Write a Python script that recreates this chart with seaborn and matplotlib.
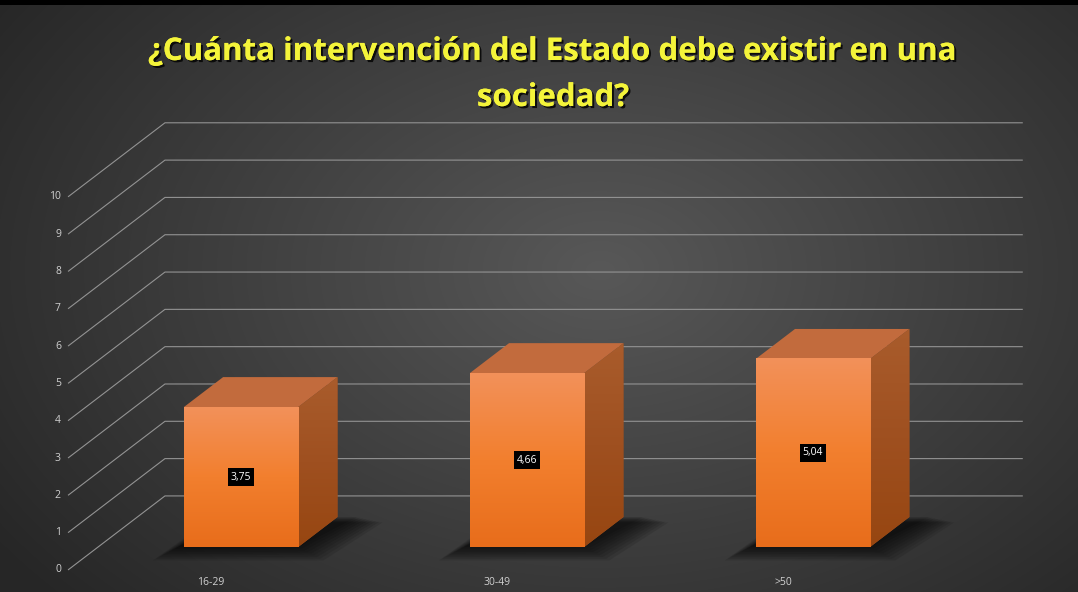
import numpy as np
import pandas as pd
import matplotlib
matplotlib.use("Agg")
import matplotlib.pyplot as plt
import matplotlib.patheffects as pe
import seaborn as sns
from matplotlib.patches import Polygon, Rectangle
from matplotlib.colors import LinearSegmentedColormap

# === DATA ===
categories = ["16-29", "30-49", ">50"]
values = [3.75, 4.66, 5.04]
value_labels = ["3,75", "4,66", "5,04"]
y_ticks = list(range(0, 11))
title_lines = ["¿Cuánta intervención del Estado debe existir en una", "sociedad?"]

# === PSEUDO 3D GEOMETRY (bar plane is z=0) ===
KX, KY = 0.339, 1.984          # screen shift per unit of depth (x in categories, y in values)
Z_FRONT, Z_BAR_BACK, Z_WALL = -0.31, 0.405, 0.69
BAR_W = 0.4


def proj(x, y, z):
    return x + z * KX, y + z * KY


sns.set_theme(style="white")
plt.rcParams["font.family"] = ["Open Sans", "DejaVu Sans"]

fig = plt.figure(figsize=(10.78, 5.92), dpi=100)

# === BACKGROUND (radial grey gradient) ===
bg = fig.add_axes([0, 0, 1, 1])
bg.axis("off")
yy, xx = np.mgrid[0:592, 0:1078]
r = np.sqrt(((xx - 600) / 640.0) ** 2 + ((yy - 270) / 430.0) ** 2)
shade = np.clip(0.345 - 0.17 * r, 0.15, 0.35)
bg.imshow(np.dstack([shade, shade, shade]), extent=[0, 1, 0, 1], aspect="auto", zorder=0)
bg.set_xlim(0, 1)
bg.set_ylim(0, 1)
fig.patches.append(Rectangle((0, 1 - 5 / 592), 1, 5 / 592, transform=fig.transFigure,
                             facecolor="black", edgecolor="none", zorder=5))

# === MAIN AXES ===
ax = fig.add_axes([0, 0, 1, 1])
ax.patch.set_alpha(0)

df = pd.DataFrame({"grupo": categories, "valor": values})
sns.barplot(data=df, x="grupo", y="valor", width=BAR_W, color="#f07f2d",
            saturation=1, ax=ax, zorder=4, edgecolor="none")

# walls: side-wall diagonals + back-wall gridlines
grid_col = "#939393"
for t in y_ticks:
    fx, fy = proj(-0.5, t, Z_FRONT)
    bx, by = proj(-0.5, t, Z_WALL)
    ex, ey = proj(len(categories) - 0.5, t, Z_WALL)
    ax.plot([fx, bx, ex], [fy, by, ey], color=grid_col, lw=0.8, zorder=1,
            solid_capstyle="butt")
    ax.text(fx - 0.025, fy, str(t), ha="right", va="center", fontsize=7.5,
            color="#d0d0d0", zorder=6)

front_cmap = LinearSegmentedColormap.from_list("front", ["#f3915a", "#f27f2e", "#e86d1b"])
side_cmap = LinearSegmentedColormap.from_list("side", ["#a95c2c", "#9f5020", "#974611"])
grad = np.linspace(0, 1, 256).reshape(-1, 1)

for i, patch in enumerate(ax.patches[:len(values)]):
    x0 = patch.get_x()
    w = patch.get_width()
    h = patch.get_height()
    cx = x0 + w / 2

    # soft floor shadow: stacked, growing copies of the bar footprint
    for k in range(9):
        ex_ = 0.011 * k
        ey_ = 0.045 * k
        foot = [proj(x0 - ex_ - 0.02, -ey_, 0), proj(x0 + w + ex_, -ey_, 0),
                proj(x0 + w + ex_ + 0.07, -ey_ * 0.4, Z_BAR_BACK),
                proj(x0 - ex_ + 0.03, -ey_ * 0.4, Z_BAR_BACK)]
        ax.add_patch(Polygon(foot, closed=True, facecolor="black", edgecolor="none",
                             alpha=0.1, zorder=2))

    # front face gradient
    ax.imshow(grad, extent=[x0, x0 + w, 0, h], cmap=front_cmap, aspect="auto",
              origin="upper", zorder=4.5, clip_path=patch, clip_on=True)

    # side face
    side_pts = [proj(x0 + w, 0, 0), proj(x0 + w, h, 0),
                proj(x0 + w, h, Z_BAR_BACK), proj(x0 + w, 0, Z_BAR_BACK)]
    side = Polygon(side_pts, closed=True, facecolor="#9f5020", edgecolor="none", zorder=4)
    ax.add_patch(side)
    xs = [p[0] for p in side_pts]
    ys = [p[1] for p in side_pts]
    ax.imshow(grad, extent=[min(xs), max(xs), min(ys), max(ys)], cmap=side_cmap,
              aspect="auto", origin="upper", zorder=4.2, clip_path=side, clip_on=True)

    # top face
    top_pts = [proj(x0, h, 0), proj(x0 + w, h, 0),
               proj(x0 + w, h, Z_BAR_BACK), proj(x0, h, Z_BAR_BACK)]
    ax.add_patch(Polygon(top_pts, closed=True, facecolor="#c26b3d", edgecolor="none", zorder=4))

    # value label
    ax.text(cx, h / 2, value_labels[i], ha="center", va="center", fontsize=7.5,
            color="white", zorder=7,
            bbox=dict(facecolor="black", edgecolor="none", boxstyle="square,pad=0.3"))

    # category label at the front edge
    lx, ly = proj(cx, 0, Z_FRONT)
    ax.text(lx, ly - 0.33, categories[i], ha="center", va="center", fontsize=7.5,
            color="#d0d0d0", zorder=6)

ax.set_xlim(-0.843, 2.927)
ax.set_ylim(-1.206, 14.66)
ax.axis("off")

# === TITLE ===
shadow = [pe.withSimplePatchShadow(offset=(1.5, -1.5), shadow_rgbFace="black", alpha=0.8), pe.Normal()]
for j, line in enumerate(title_lines):
    fig.text(0.513, 1 - (52 + 46 * j) / 592, line, ha="center", va="center",
             fontsize=22.5, fontweight="bold", color="#f4f43a", path_effects=shadow)

fig.savefig("out.png", dpi=100)
